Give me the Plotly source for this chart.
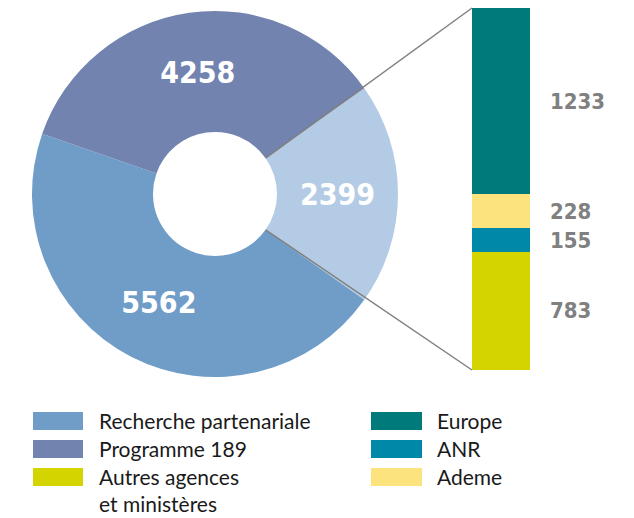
import math
import plotly.graph_objects as go

W, H = 634, 518

# ---- data ----
donut_labels = ["Autres financements", "Recherche partenariale", "Programme 189"]
donut_values = [2399, 5562, 4258]
donut_colors = ["#b3cbe5", "#6f9dc8", "#7283b0"]

bar_labels = ["Autres agences et ministères", "ANR", "Ademe", "Europe"]
bar_values = [783, 155, 228, 1233]
bar_colors = ["#d3d400", "#0088a8", "#fde37e", "#007a7a"]

legend_left = ["Recherche partenariale", "Programme 189", "Autres agences<br>et ministères"]
legend_left_colors = ["#6f9dc8", "#7283b0", "#d3d400"]
legend_right = ["Europe", "ANR", "Ademe"]
legend_right_colors = ["#007a7a", "#0088a8", "#fde37e"]

NUM_FONT = "DejaVu Sans Condensed, DejaVu Sans"
LEG_SIZE = 21

# ---- geometry (pixels) ----
cx, cy, R, r_hole = 215, 194, 183, 62
bar_x0, bar_x1, bar_y0, bar_y1 = 472, 530, 8, 370

def px(x):
    return x / W

def py(y):
    return 1 - y / H

total = sum(donut_values)
frac0 = donut_values[0] / total
rotation = 90 - 360 * frac0 / 2

fig = go.Figure()

fig.add_trace(go.Pie(
    labels=donut_labels, values=donut_values, sort=False, direction="clockwise",
    rotation=rotation, hole=r_hole / R,
    marker=dict(colors=donut_colors, line=dict(width=0)),
    textinfo="value", textposition="inside",
    insidetextfont=dict(color="white", size=30, family=NUM_FONT, weight="bold"),
    domain=dict(x=[px(cx - R), px(cx + R)], y=[py(cy + R), py(cy - R)]),
    showlegend=False, hoverinfo="label+value",
))

for lab, val, col in zip(bar_labels, bar_values, bar_colors):
    fig.add_trace(go.Bar(
        x=[0], y=[val], name=lab, marker=dict(color=col, line=dict(width=0)),
        width=1, xaxis="x", yaxis="y", showlegend=False,
    ))

bar_total = sum(bar_values)
cum = 0
for val in bar_values:
    fig.add_annotation(
        x=px(548), xref="paper", xanchor="left",
        y=cum + val / 2, yref="y", yanchor="middle",
        text=f"{val}", showarrow=False,
        font=dict(family=NUM_FONT, size=22, color="#808080", weight="bold"),
    )
    cum += val

# connector lines along slice boundaries
for ang_deg, by in [(rotation, bar_y0), (rotation + 360 * frac0, bar_y1)]:
    a = math.radians(ang_deg)
    sx = cx + r_hole * math.sin(a)
    sy = cy - r_hole * math.cos(a)
    fig.add_shape(type="line", xref="paper", yref="paper",
                  x0=px(sx), y0=py(sy), x1=px(bar_x0), y1=py(by),
                  line=dict(color="#808080", width=1.5))

# custom legend
def legend_block(labels, colors, rx0, rx1, tx, top):
    for i, (lab, col) in enumerate(zip(labels, colors)):
        y0 = top + 28 * i
        fig.add_shape(type="rect", xref="paper", yref="paper",
                      x0=px(rx0), x1=px(rx1), y0=py(y0), y1=py(y0 + 18),
                      line=dict(width=0), fillcolor=col)
        fig.add_annotation(x=px(tx), y=py(y0 + 9 - LEG_SIZE * 0.65 - 1), xref="paper", yref="paper",
                           xanchor="left", yanchor="top", align="left",
                           text=lab, showarrow=False,
                           font=dict(family="Lato", size=LEG_SIZE, color="#1a1a1a"))

legend_block(legend_left, legend_left_colors, 33, 83, 97, 412)
legend_block(legend_right, legend_right_colors, 371, 422, 435, 412)

fig.update_layout(
    width=W, height=H, margin=dict(l=0, r=0, t=0, b=0),
    paper_bgcolor="white", plot_bgcolor="white",
    barmode="stack", bargap=0,
    xaxis=dict(domain=[px(bar_x0), px(bar_x1)], range=[-0.5, 0.5], visible=False, fixedrange=True),
    yaxis=dict(domain=[py(bar_y1), py(bar_y0)], range=[0, bar_total], visible=False, fixedrange=True),
    uniformtext=dict(minsize=30, mode="show"),
)

fig.write_html("out.html", config={"displayModeBar": False},
               post_script="document.body.style.margin='0';document.body.style.overflow='hidden';")
